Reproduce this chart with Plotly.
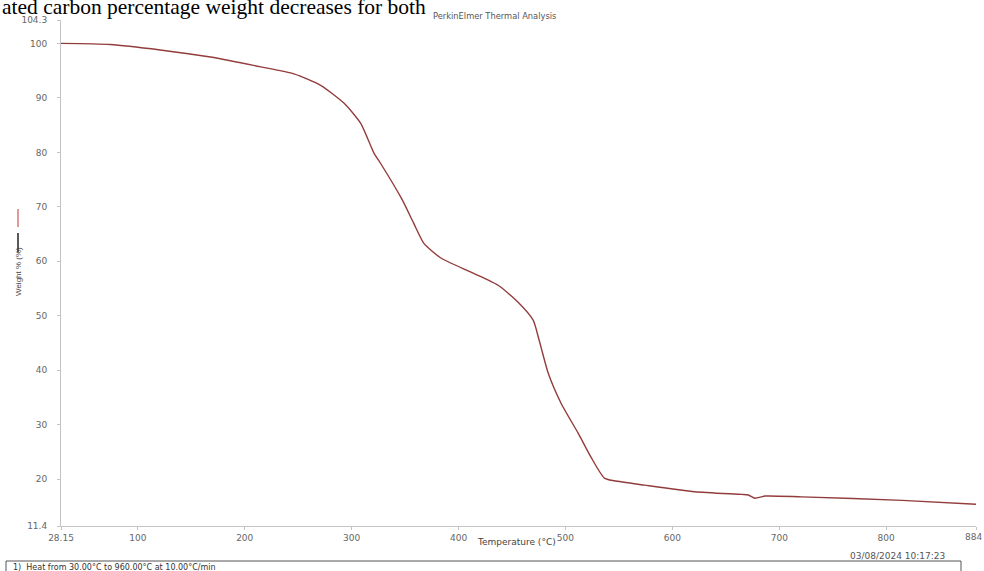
import plotly.graph_objects as go

# Data
temperature = [28.15, 74, 121, 168, 215, 246, 271, 293, 308.5, 321, 327, 347, 358, 367.6,
               383.5, 411.6, 437, 455.7, 469.8, 475.4, 484, 496, 512, 524, 536.4, 545.7,
               574, 620.8, 664.8, 671, 677.3, 686.7, 721, 815, 884]
weight = [100.0, 99.8, 98.8, 97.5, 95.7, 94.4, 92.3, 89.0, 85.3, 79.8, 78.0, 71.4, 67.0, 63.3,
          60.6, 58.0, 55.6, 52.5, 49.2, 45.5, 39.4, 33.9, 28.4, 24.0, 20.2, 19.7,
          18.9, 17.7, 17.2, 17.1, 16.5, 16.9, 16.75, 16.1, 15.4]

x_tickvals = [28.15, 100, 200, 300, 400, 500, 600, 700, 800, 884]
x_ticktext = ["28.15", "100", "200", "300", "400", "500", "600", "700", "800", "884"]
y_tickvals = [11.4, 20, 30, 40, 50, 60, 70, 80, 90, 100, 104.3]
y_ticktext = ["11.4", "20", "30", "40", "50", "60", "70", "80", "90", "100", "104.3"]

W, H = 984, 571
L, R, T, B = 61, 8, 20, 45
pw, ph = W - L - R, H - T - B


def px(x):
    return (x - L) / pw


def py(y):
    return (H - B - y) / ph


SANS = "DejaVu Sans, Verdana, sans-serif"

fig = go.Figure()
fig.add_trace(go.Scatter(x=temperature, y=weight, mode="lines",
                         line=dict(color="#933c3c", width=1.4, shape="spline", smoothing=0.6),
                         showlegend=False, hoverinfo="skip"))

axis_font = dict(family=SANS, size=9, color="#666666")
# last x tick label would overflow the page edge; it is drawn as a right-anchored annotation
shown_x_ticktext = x_ticktext[:-1] + [""]
fig.update_xaxes(range=[28.15, 884], tickvals=x_tickvals, ticktext=shown_x_ticktext,
                 showgrid=False, zeroline=False, showline=True, linecolor="#c4c4c4",
                 linewidth=1, ticks="outside", ticklen=3, tickcolor="#c4c4c4",
                 tickfont=axis_font, ticklabelstandoff=0)
fig.update_yaxes(range=[11.4, 104.3], tickvals=y_tickvals, ticktext=y_ticktext,
                 showgrid=False, zeroline=False, showline=True, linecolor="#c4c4c4",
                 linewidth=1, ticks="outside", ticklen=3, tickcolor="#c4c4c4",
                 tickfont=axis_font, ticklabelstandoff=8)

annotations = [
    dict(text=x_ticktext[-1], x=x_tickvals[-1], xref="x", y=py(537), yref="paper",
         xanchor="right", xshift=8, yanchor="middle", font=axis_font),
    dict(text="ated carbon percentage weight decreases for both", x=px(0), y=py(6.5),
         xanchor="left", yanchor="middle",
         font=dict(family="Liberation Serif, Times New Roman, serif", size=21.5, color="#000000")),
    dict(text="PerkinElmer Thermal Analysis", x=px(494), y=py(16), xanchor="center", yanchor="middle",
         font=dict(family=SANS, size=8.3, color="#555555")),
    dict(text="Temperature (°C)", x=px(516), y=py(542), xanchor="center", yanchor="middle",
         font=dict(family=SANS, size=9, color="#444444")),
    dict(text="03/08/2024 10:17:23", x=px(947), y=py(556), xanchor="right", yanchor="middle",
         font=dict(family=SANS, size=9, color="#555555")),
    dict(text="1)  Heat from 30.00°C to 960.00°C at 10.00°C/min", x=px(11), y=py(567),
         xanchor="left", yanchor="middle",
         font=dict(family=SANS, size=8, color="#333333")),
    dict(text="Weight % (%)", x=px(18), y=py(272), xanchor="center", yanchor="middle",
         textangle=-90,
         font=dict(family="Liberation Sans Narrow, Liberation Sans, Arial, sans-serif", size=8,
                   color="#444444")),
]
for a in annotations:
    a.setdefault("xref", "paper")
    a.setdefault("yref", "paper")
    a["showarrow"] = False

shapes = [
    dict(type="line", x0=px(18), x1=px(18), y0=py(209), y1=py(227),
         line=dict(color="#d9777a", width=1.5)),
    dict(type="line", x0=px(18), x1=px(18), y0=py(233), y1=py(252),
         line=dict(color="#222222", width=1.5)),
    dict(type="rect", x0=px(6), x1=px(961), y0=py(561), y1=py(575),
         line=dict(color="#555555", width=1)),
]
for s in shapes:
    s.update(xref="paper", yref="paper")

fig.update_layout(width=W, height=H, margin=dict(l=L, r=R, t=T, b=B),
                  paper_bgcolor="white", plot_bgcolor="white",
                  annotations=annotations, shapes=shapes)

fig.write_html("out.html", config={"displayModeBar": False},
               post_script="document.body.style.margin='0px';")
